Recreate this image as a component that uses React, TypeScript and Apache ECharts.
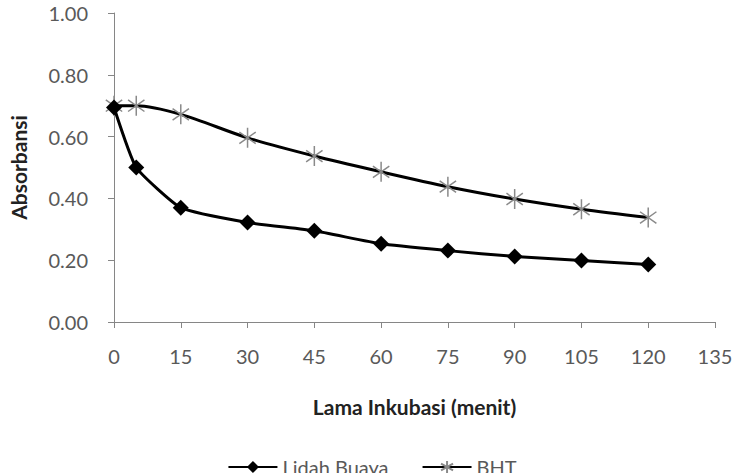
import React, { useEffect, useRef } from "react";
import * as echarts from "echarts";

const times = [0, 5, 15, 30, 45, 60, 75, 90, 105, 120];
const lidahBuaya = [0.694, 0.5, 0.37, 0.322, 0.295, 0.253, 0.231, 0.212, 0.199, 0.186];
const bht = [0.7, 0.7, 0.672, 0.596, 0.537, 0.486, 0.438, 0.398, 0.365, 0.338];
const seriesNames = ["Lidah Buaya", "BHT"];
const xTitle = "Lama Inkubasi (menit)";
const yTitle = "Absorbansi";

const STAR = "path://M0,-10L0,10M-8.2,-5.8L8.2,5.8M-8.2,5.8L8.2,-5.8";
const FONT = "Lato, 'Open Sans', sans-serif";

export default function App() {
  const ref = useRef<HTMLDivElement>(null);
  useEffect(() => {
    if (!ref.current) return;
    const chart = echarts.init(ref.current, null, { renderer: "svg" });
    const pair = (ys: number[]) => times.map((t, i) => [t, ys[i]]);
    chart.setOption({
      animation: false,
      backgroundColor: "#fff",
      textStyle: { fontFamily: FONT },
      grid: { left: 110, top: 13, width: 605, height: 309 },
      legend: {
        data: [{ name: seriesNames[0] }, { name: seriesNames[1] }],
        top: 452,
        left: "center",
        itemWidth: 49,
        itemHeight: 15,
        itemGap: 33,
        textStyle: { fontSize: 20, color: "#595959", fontFamily: FONT },
      },
      xAxis: {
        type: "value",
        min: 0,
        max: 135,
        interval: 15,
        name: xTitle,
        nameLocation: "middle",
        nameGap: 74,
        nameTextStyle: { fontSize: 21, fontWeight: "bold", color: "#222", fontFamily: FONT },
        axisLine: { lineStyle: { color: "#868686", width: 1 } },
        axisTick: { show: true, length: 6, lineStyle: { color: "#868686" } },
        axisLabel: { fontSize: 20, color: "#595959", margin: 24, fontFamily: FONT },
        splitLine: { show: false },
      },
      yAxis: {
        type: "value",
        min: 0,
        max: 1,
        interval: 0.2,
        name: yTitle,
        nameLocation: "middle",
        nameGap: 85,
        nameTextStyle: { fontSize: 21, fontWeight: "bold", color: "#222", fontFamily: FONT },
        axisLine: { show: true, lineStyle: { color: "#868686", width: 1 } },
        axisTick: { show: true, length: 6, lineStyle: { color: "#868686" } },
        axisLabel: {
          fontSize: 20,
          color: "#595959",
          margin: 26,
          fontFamily: FONT,
          formatter: (v: number) => v.toFixed(2),
        },
        splitLine: { show: false },
      },
      series: [
        {
          name: seriesNames[0],
          type: "line",
          data: pair(lidahBuaya),
          smooth: 0.15,
          symbol: "diamond",
          symbolSize: 16,
          lineStyle: { color: "#000", width: 3 },
          itemStyle: { color: "#000" },
          z: 3,
        },
        {
          name: seriesNames[1],
          type: "line",
          data: pair(bht),
          smooth: 0.3,
          symbol: STAR,
          symbolSize: 20,
          symbolKeepAspect: true,
          lineStyle: { color: "#000", width: 3 },
          itemStyle: { color: "rgba(0,0,0,0)", borderColor: "#8a8a8a", borderWidth: 1.5 },
          z: 2,
        },
      ],
    });
    return () => chart.dispose();
  }, []);
  return (
    <div
      ref={ref}
      style={{ position: "absolute", left: 0, top: 0, width: 744, height: 473 }}
    />
  );
}
